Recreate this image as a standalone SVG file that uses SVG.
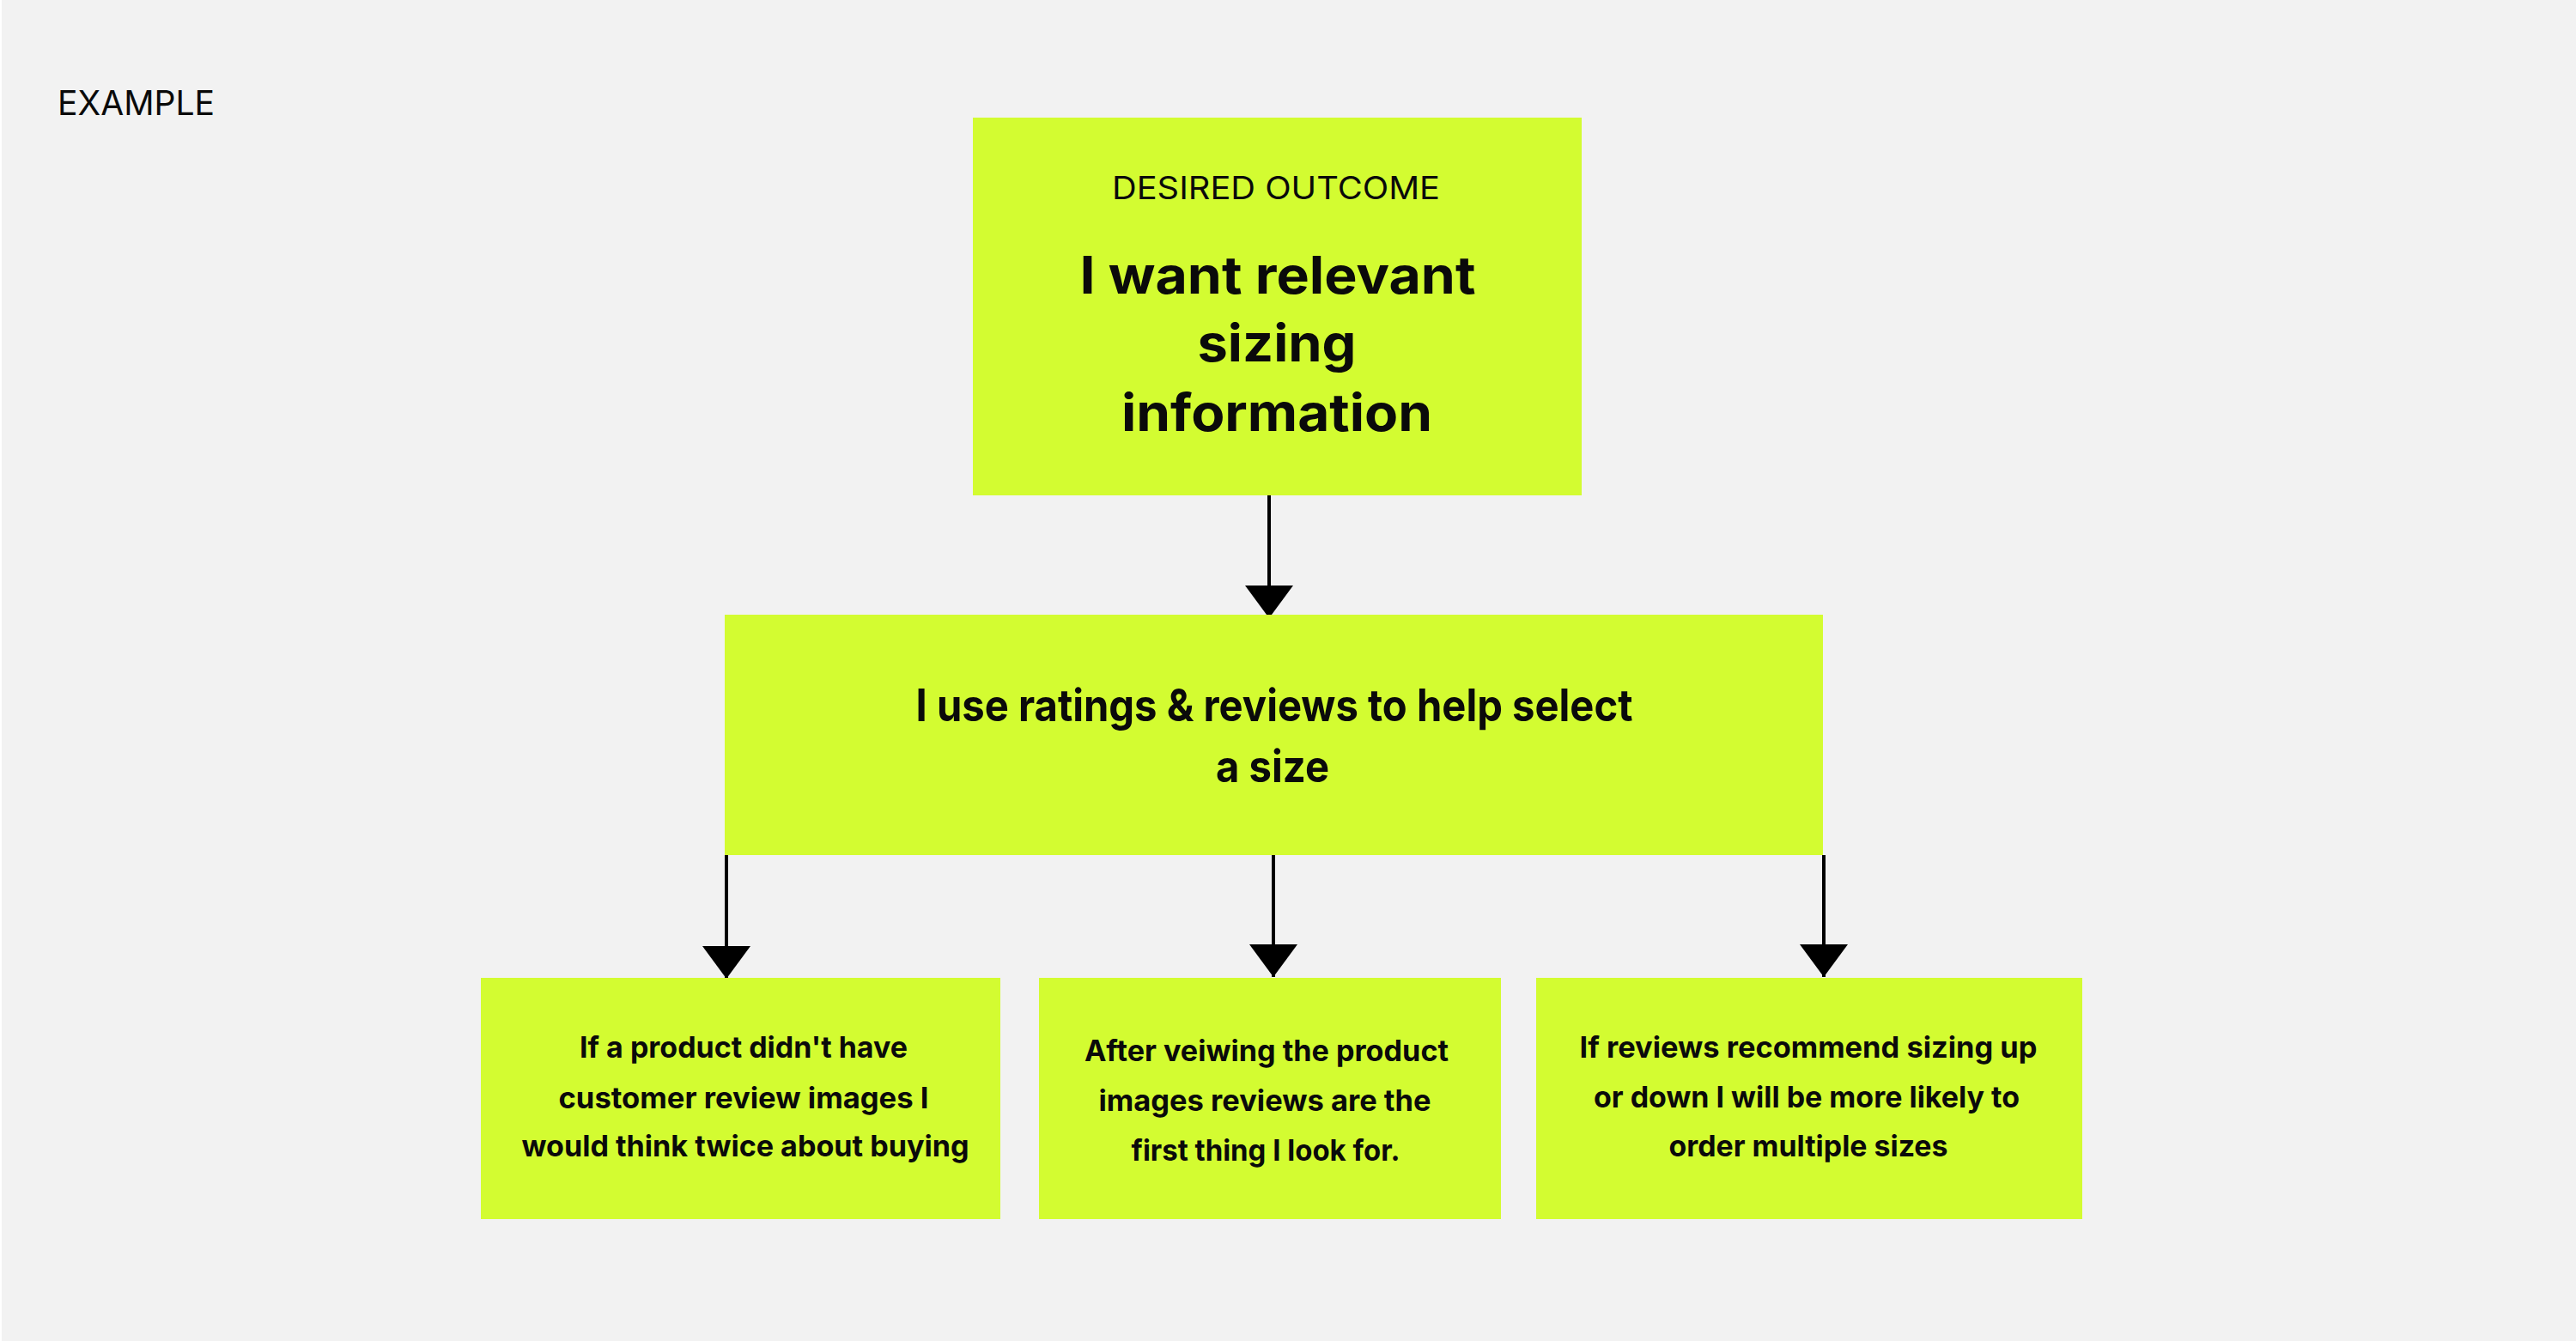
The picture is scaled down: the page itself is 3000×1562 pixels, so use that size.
<svg xmlns="http://www.w3.org/2000/svg" width="3000" height="1562" viewBox="0 0 3000 1562">
<style>
.bg{fill:#f2f2f2}
.box{fill:#d3fc31}
.t{font-family:Inter,"Liberation Sans",sans-serif;fill:#0a0a0a;text-anchor:middle}
.lbl{font-weight:400}
.big{font-weight:700;font-size:60px}
.mid{font-weight:700;font-size:52px}
.sm{font-weight:700;font-size:34px}
.conn{stroke:#000;stroke-width:4;fill:none;marker-end:url(#ah)}
</style>
<defs>
<marker id="ah" markerUnits="userSpaceOnUse" markerWidth="40" markerHeight="60" viewBox="0 -30 40 60" refX="38" refY="0" orient="auto">
<path d="M0,-28 L38,0 L0,28 z" fill="#000"/>
</marker>
</defs>
<rect class="bg" x="0" y="0" width="3000" height="1562"/>
<rect x="0" y="0" width="2" height="1562" fill="#ffffff"/>
<text class="t lbl" x="67" y="134" font-size="40" style="text-anchor:start" textLength="183" lengthAdjust="spacingAndGlyphs">EXAMPLE</text>

<g id="connectors">
<line class="conn" x1="1478" y1="577" x2="1478" y2="720"/>
<line class="conn" x1="846" y1="996" x2="846" y2="1140"/>
<line class="conn" x1="1483" y1="996" x2="1483" y2="1138"/>
<line class="conn" x1="2124" y1="996" x2="2124" y2="1138"/>
</g>

<g id="node-outcome">
<rect class="box" x="1133" y="137" width="709" height="440"/>
<text class="t lbl" x="1486" y="232" font-size="37" textLength="382" lengthAdjust="spacingAndGlyphs">DESIRED OUTCOME</text>
<text class="t big" x="1488" y="342" textLength="461" lengthAdjust="spacingAndGlyphs">I want relevant</text>
<text class="t big" x="1487" y="421" textLength="185" lengthAdjust="spacingAndGlyphs">sizing</text>
<text class="t big" x="1487" y="502" textLength="362" lengthAdjust="spacingAndGlyphs">information</text>
</g>

<g id="node-ratings">
<rect class="box" x="844" y="716" width="1279" height="280"/>
<text class="t mid" x="1484" y="840" textLength="835" lengthAdjust="spacingAndGlyphs">I use ratings &amp; reviews to help select</text>
<text class="t mid" x="1482" y="911" textLength="132" lengthAdjust="spacingAndGlyphs">a size</text>
</g>

<g id="node-images">
<rect class="box" x="560" y="1139" width="605" height="281"/>
<text class="t sm" x="866" y="1232" textLength="382" lengthAdjust="spacingAndGlyphs">If a product didn't have</text>
<text class="t sm" x="866" y="1291" textLength="431" lengthAdjust="spacingAndGlyphs">customer review images I</text>
<text class="t sm" x="868" y="1347" textLength="521" lengthAdjust="spacingAndGlyphs">would think twice about buying</text>
</g>

<g id="node-first">
<rect class="box" x="1210" y="1139" width="538" height="281"/>
<text class="t sm" x="1475" y="1236" textLength="424" lengthAdjust="spacingAndGlyphs">After veiwing the product</text>
<text class="t sm" x="1473" y="1294" textLength="387" lengthAdjust="spacingAndGlyphs">images reviews are the</text>
<text class="t sm" x="1474" y="1352" textLength="313" lengthAdjust="spacingAndGlyphs">first thing I look for.</text>
</g>

<g id="node-sizing">
<rect class="box" x="1789" y="1139" width="636" height="281"/>
<text class="t sm" x="2106" y="1232" textLength="533" lengthAdjust="spacingAndGlyphs">If reviews recommend sizing up</text>
<text class="t sm" x="2104" y="1290" textLength="496" lengthAdjust="spacingAndGlyphs">or down I will be more likely to</text>
<text class="t sm" x="2106" y="1347" textLength="325" lengthAdjust="spacingAndGlyphs">order multiple sizes</text>
</g>
</svg>
